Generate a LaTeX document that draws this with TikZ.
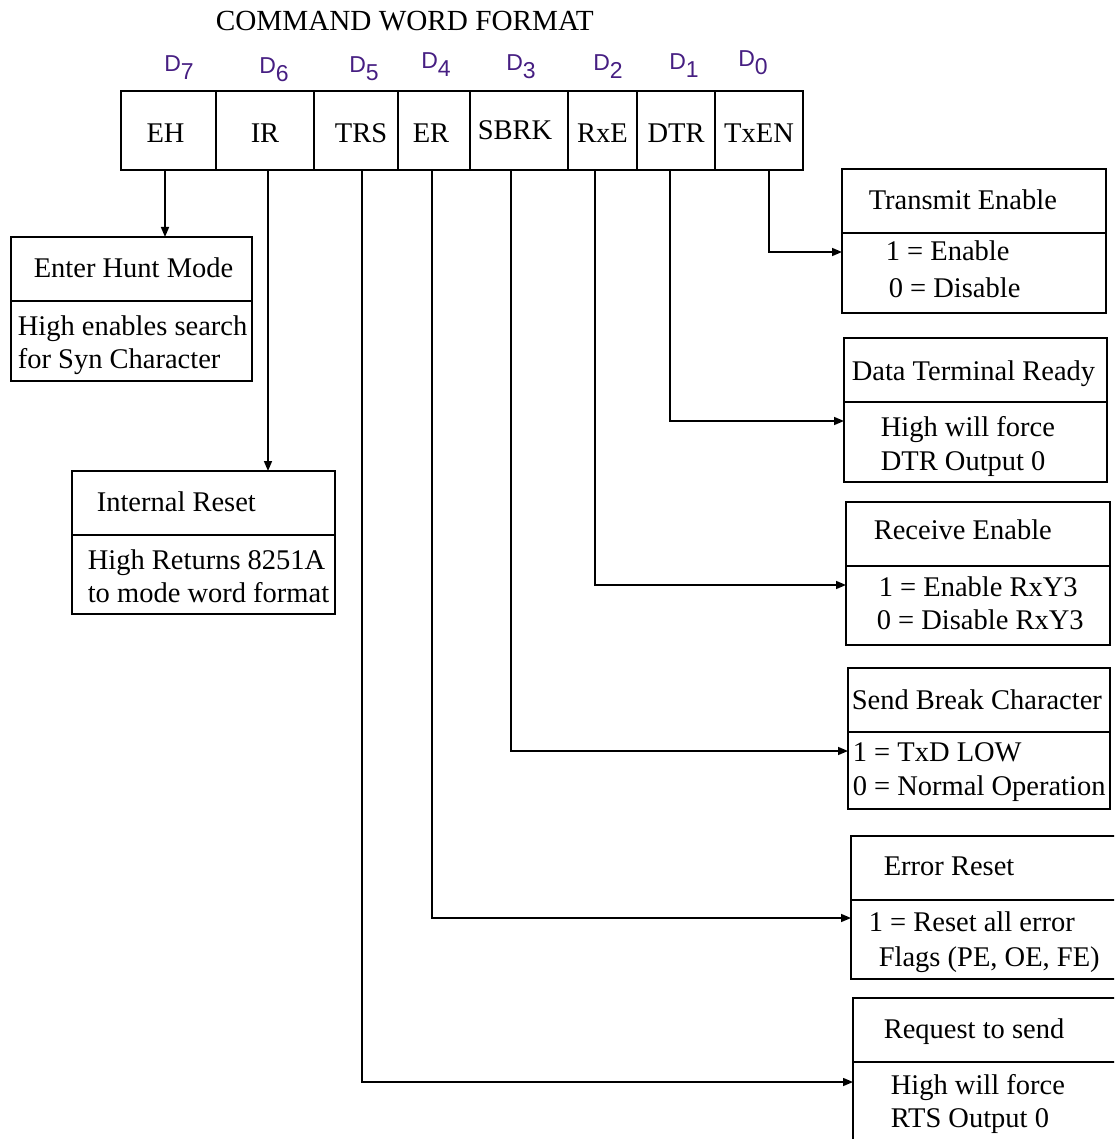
\documentclass[tikz,border=0pt]{standalone}
\usepackage{fontspec}
\setmainfont{Liberation Serif}
\newfontfamily\lsans{Liberation Sans}
\usetikzlibrary{arrows.meta}
\definecolor{bitc}{RGB}{70,30,130}
\begin{document}
\begin{tikzpicture}[x=1pt,y=-1pt,
  font=\fontsize{28.5}{30}\selectfont,
  line width=1.6pt,
  cell/.style={draw, minimum height=79pt, anchor=north west, inner sep=0pt, outer sep=0pt},
  infobox/.style={draw, anchor=north west, inner sep=0pt, outer sep=0pt},
  txt/.style={anchor=base west, inner sep=0pt},
  bit/.style={text=bitc, font=\lsans\fontsize{23}{24}\selectfont, inner sep=0pt, anchor=base},
  arr/.style={-{Triangle[length=10pt,width=8pt]}, line width=1.5pt}]
\useasboundingbox (0,0) rectangle (1114,1139);
\clip (0,0) rectangle (1114,1139);

% title
\node[txt, font=\fontsize{29.2}{30}\selectfont] (title) at (215,31) {COMMAND WORD FORMAT};

% bit labels
\newcommand\bitsub[1]{\raisebox{-8pt}{#1}}
\newcommand\cl[2][-12pt]{\raisebox{#1}[0pt][0pt]{#2}}
\node[bit] (b7) at (179,72) {D\bitsub{7}};
\node[bit] (b6) at (274,74) {D\bitsub{6}};
\node[bit] (b5) at (364,73) {D\bitsub{5}};
\node[bit] (b4) at (436,69) {D\bitsub{4}};
\node[bit] (b3) at (521,71) {D\bitsub{3}};
\node[bit] (b2) at (608,71) {D\bitsub{2}};
\node[bit] (b1) at (684,70) {D\bitsub{1}};
\node[bit] (b0) at (753,67) {D\bitsub{0}};

% register cells
\node[cell, minimum width=95pt] (eh)   at (121,91) {\cl{EH}\hspace*{6pt}};
\node[cell, minimum width=98pt] (ir)   at (216,91) {\cl{IR}};
\node[cell, minimum width=84pt] (trs)  at (314,91) {\hspace*{10pt}\cl{TRS}};
\node[cell, minimum width=72pt] (er)   at (398,91) {\cl{ER}\hspace*{6pt}};
\node[cell, minimum width=98pt] (sbrk) at (470,91) {\cl[-9pt]{SBRK}\hspace*{8pt}};
\node[cell, minimum width=69pt] (rxe)  at (568,91) {\cl{RxE}};
\node[cell, minimum width=78pt] (dtr)  at (637,91) {\cl{DTR}};
\node[cell, minimum width=88pt] (txen) at (715,91) {\cl{TxEN}};

% description boxes
\node[infobox, minimum width=241pt, minimum height=144pt] (hunt) at (11,237) {};
\node[infobox, minimum width=263pt, minimum height=143pt] (irb)  at (72,471) {};
\node[infobox, minimum width=264pt, minimum height=144pt] (teb)  at (842,169) {};
\node[infobox, minimum width=263pt, minimum height=144pt] (dtrb) at (844,338) {};
\node[infobox, minimum width=264pt, minimum height=143pt] (rxb)  at (846,502) {};
\node[infobox, minimum width=262pt, minimum height=141pt] (sbb)  at (848,668) {};
\node[infobox, minimum width=270pt, minimum height=143pt] (erb)  at (851,836) {};
\node[infobox, minimum width=270pt, minimum height=150pt] (rtsb) at (853,998) {};

% dividers
\foreach \b in {hunt,irb,teb,dtrb,rxb,sbb,erb,rtsb}
  \draw ([yshift=-64pt]\b.north west) -- ([yshift=-64pt]\b.north east);

% box texts
\node[txt] (huntT)  at (33,277)  {Enter Hunt Mode};
\node[txt] (huntA)  at (17,335)  {High enables search};
\node[txt] (huntB)  at (17,368)  {for Syn Character};

\node[txt] (irT)    at (96,511)  {Internal Reset};
\node[txt] (irA)    at (87,569)  {High Returns 8251A};
\node[txt] (irB)    at (87,602)  {to mode word format};

\node[txt] (teT)    at (868,210) {Transmit Enable};
\node[txt] (teA)    at (885,261) {1 = Enable};
\node[txt] (teB)    at (888,298) {0 = Disable};

\node[txt] (dtrT)   at (851,380) {Data Terminal Ready};
\node[txt] (dtrA)   at (880,436) {High will force};
\node[txt] (dtrB)   at (880,470) {DTR Output 0};

\node[txt] (rxT)    at (873,539) {Receive Enable};
\node[txt] (rxA)    at (878,596) {1 = Enable RxY3};
\node[txt] (rxB)    at (876,629) {0 = Disable RxY3};

\node[txt] (sbT)    at (851,709) {Send Break Character};
\node[txt] (sbA)    at (852,761) {1 = TxD LOW};
\node[txt] (sbB)    at (852,795) {0 = Normal Operation};

\node[txt] (erT)    at (883,875) {Error Reset};
\node[txt] (erA)    at (868,931) {1 = Reset all error};
\node[txt] (erB)    at (878,966) {Flags (PE, OE, FE)};

\node[txt] (rtsT)   at (883,1038) {Request to send};
\node[txt] (rtsA)   at (890,1094) {High will force};
\node[txt] (rtsB)   at (890,1127) {RTS Output 0};

% connectors
\draw[arr] ([xshift=-3.5pt]eh.south) -- ([xshift=-3.5pt]eh.south |- hunt.north);
\draw[arr] ([xshift=3pt]ir.south) -- ([xshift=3pt]ir.south |- irb.north);
\draw[arr] ([xshift=10pt]txen.south) |- ([yshift=-11pt]teb.west);
\draw[arr] ([xshift=-6pt]dtr.south) |- ([yshift=-11pt]dtrb.west);
\draw[arr] ([xshift=-7.5pt]rxe.south) |- ([yshift=-11.5pt]rxb.west);
\draw[arr] ([xshift=-8pt]sbrk.south) |- ([yshift=-12.5pt]sbb.west);
\draw[arr] ([xshift=-2pt]er.south) |- ([yshift=-10.5pt]erb.west);
\draw[arr] ([xshift=6pt]trs.south) |- ([yshift=-9pt]rtsb.west);
\end{tikzpicture}
\end{document}
